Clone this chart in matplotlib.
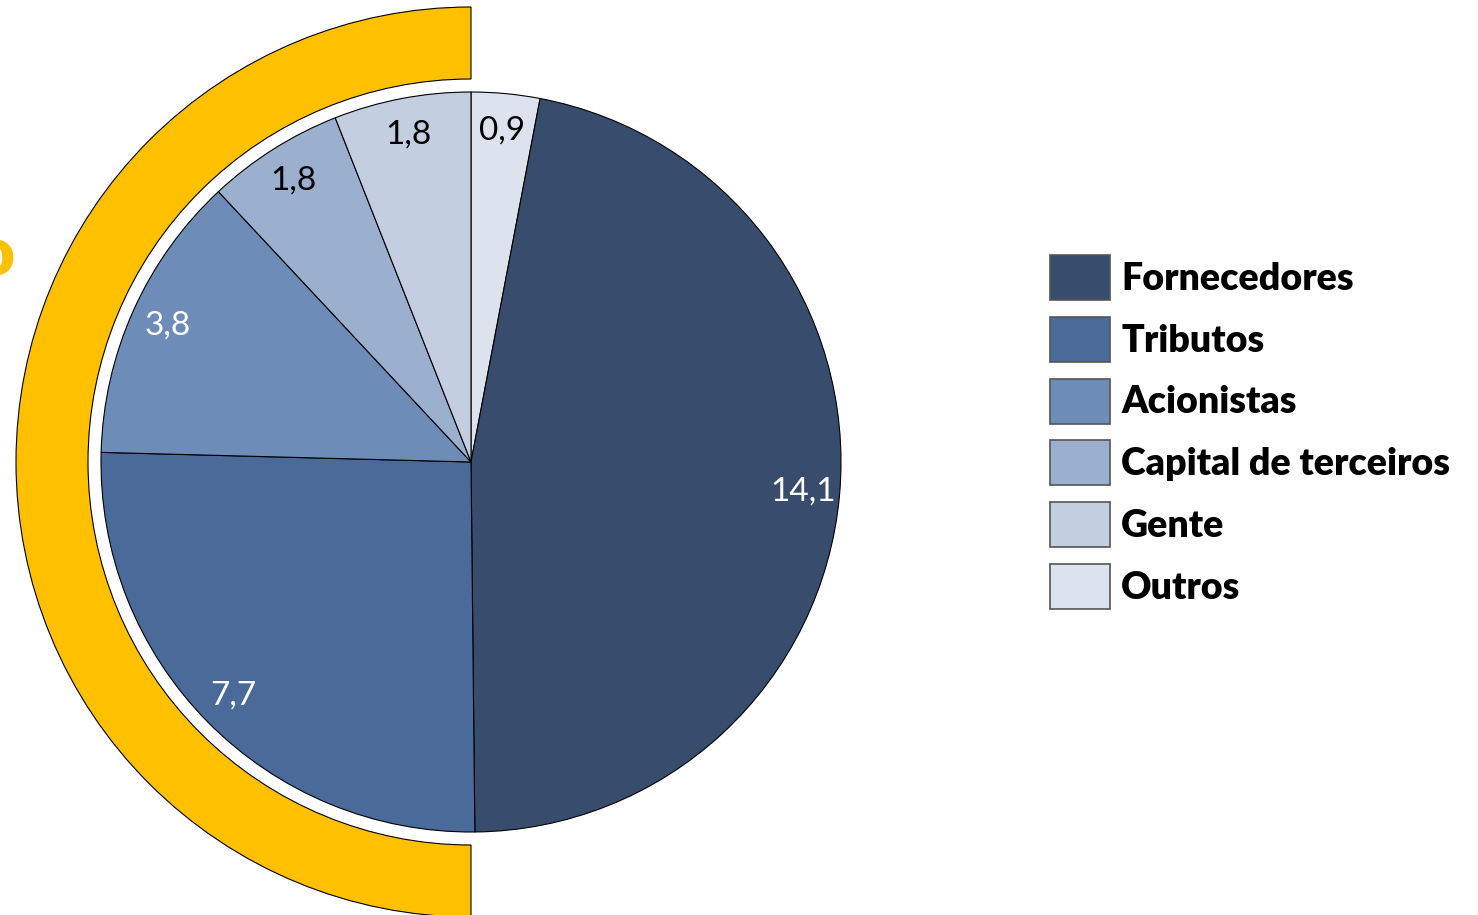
import matplotlib.pyplot as plt
from matplotlib.patches import Wedge

plt.rcParams['font.family'] = ['Lato', 'DejaVu Sans']

# data (order clockwise from 12 o'clock)
names = ['Outros', 'Fornecedores', 'Tributos', 'Acionistas',
         'Capital de terceiros', 'Gente']
values = [0.9, 14.1, 7.7, 3.8, 1.8, 1.8]
colors = ['#DDE3EE', '#384D6E', '#4A6A9A', '#6D8CB8', '#9BAFCF', '#C3CEE1']
label_colors = ['black', 'white', 'white', 'white', 'black', 'black']
legend_order = ['Fornecedores', 'Tributos', 'Acionistas',
                'Capital de terceiros', 'Gente', 'Outros']

W, H = 1478, 915
fig = plt.figure(figsize=(W / 100, H / 100), dpi=100)
ax = fig.add_axes((0, 0, 1, 1))

cx, cy, r = 471, H - 462, 370
total = sum(values)

# yellow half ring behind the pie
ring = Wedge((cx, cy), 455, 90, 270, width=72, facecolor='#FFC000',
             edgecolor='black', linewidth=0.8, zorder=1)
ax.add_patch(ring)

wedges, _, autotexts = ax.pie(
    values, colors=colors, startangle=90, counterclock=False,
    center=(cx, cy), radius=r, frame=True,
    autopct=lambda p: f"{p * total / 100:.1f}".replace('.', ','),
    pctdistance=0.9,
    wedgeprops=dict(edgecolor='black', linewidth=0.8, zorder=2),
    textprops=dict(fontsize=24))
for t, c in zip(autotexts, label_colors):
    t.set_color(c)
    t.set_zorder(3)
ax.set_xlim(0, W)
ax.set_ylim(0, H)
ax.set_aspect('equal')
ax.set_axis_off()

handles = [wedges[names.index(n)] for n in legend_order]
leg = ax.legend(handles, legend_order, loc='center left',
                bbox_to_anchor=(1050 / W, 1 - 432 / H), frameon=False,
                borderpad=0, borderaxespad=0, handlelength=1.6,
                handleheight=1.47, handletextpad=0.3, labelspacing=0.45,
                prop=dict(size=27, weight='heavy'))
for h in leg.legend_handles:
    h.set_edgecolor('#555555')
    h.set_linewidth(1.2)

# clipped heading on the left margin
ax.text(16, H - 255, 'Valor distribuído', ha='right', va='center',
        fontsize=50, fontweight='heavy', color='#FFC000')

fig.savefig('out.png', dpi=100)
